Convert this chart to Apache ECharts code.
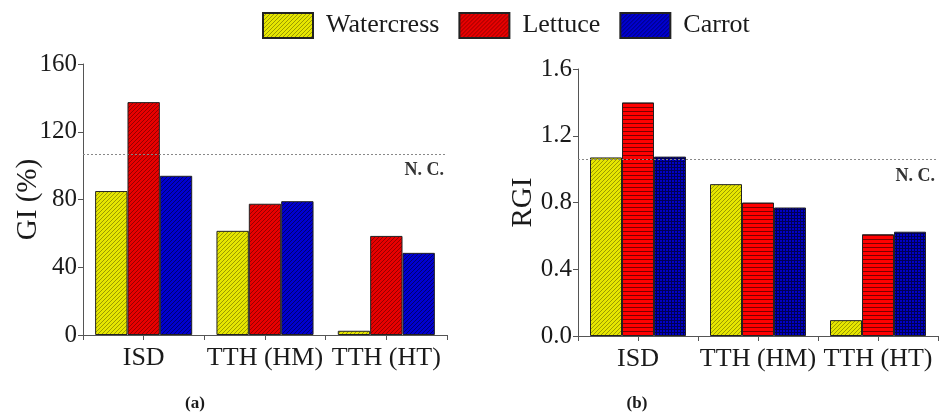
<!DOCTYPE html>
<html>
<head>
<meta charset="utf-8">
<script src="https://cdn.jsdelivr.net/npm/echarts@6/dist/echarts.min.js"></script>
<style>
html,body{margin:0;padding:0;background:#fff;}
#chart{width:952px;height:412px;}
</style>
</head>
<body>
<div id="chart"></div>
<script>
// ---- data ----
const categories = ['ISD', 'TTH (HM)', 'TTH (HT)'];
const seriesNames = ['Watercress', 'Lettuce', 'Carrot'];
const giWatercress = [85, 61.5, 2.5];
const giLettuce = [137.5, 77.5, 58.5];
const giCarrot = [94, 79, 48.5];
const rgiWatercress = [1.07, 0.91, 0.095];
const rgiLettuce = [1.40, 0.80, 0.61];
const rgiCarrot = [1.075, 0.77, 0.625];
const ncGI = 107;
const ncRGI = 1.065;
const giTicks = [0, 40, 80, 120, 160];
const rgiTicks = [0, 0.4, 0.8, 1.2, 1.6];

// ---- patterns ----
function diagPattern(bg, line) {
  const c = document.createElement('canvas');
  c.width = 4; c.height = 4;
  const g = c.getContext('2d');
  g.fillStyle = bg; g.fillRect(0, 0, 4, 4);
  g.strokeStyle = line; g.lineWidth = 1;
  g.beginPath();
  g.moveTo(-1, 5); g.lineTo(5, -1);
  g.moveTo(-1, 1); g.lineTo(1, -1);
  g.moveTo(3, 5); g.lineTo(5, 3);
  g.stroke();
  return { image: c, repeat: 'repeat' };
}
function horizPattern(bg, line) {
  const c = document.createElement('canvas');
  c.width = 4; c.height = 4;
  const g = c.getContext('2d');
  g.fillStyle = bg; g.fillRect(0, 0, 4, 4);
  g.fillStyle = line; g.fillRect(0, 3, 4, 1);
  return { image: c, repeat: 'repeat' };
}
function gridPattern(bg, line) {
  const c = document.createElement('canvas');
  c.width = 3; c.height = 3;
  const g = c.getContext('2d');
  g.fillStyle = bg; g.fillRect(0, 0, 3, 3);
  g.fillStyle = line; g.fillRect(0, 2, 3, 1); g.fillRect(2, 0, 1, 3);
  return { image: c, repeat: 'repeat' };
}

const yellowDiag = diagPattern('#e6e600', '#9a9a00');
const redDiag = diagPattern('#e80000', '#940000');
const blueDiag = diagPattern('#0000d0', '#000070');
const redHoriz = horizPattern('#ff0000', '#7a0000');
const blueGrid = gridPattern('#0000c8', '#000055');

const font = '"Liberation Serif", "Times New Roman", serif';
const textColor = '#1a1a1a';
const axisColor = '#555';

function mkBar(name, data, color, xi, yi, extra) {
  const s = {
    name: name, type: 'bar', data: data,
    xAxisIndex: xi, yAxisIndex: yi,
    barGap: '0%', barCategoryGap: '20%',
    itemStyle: { color: color, borderColor: '#222', borderWidth: 1 },
    emphasis: { disabled: true },
    animation: false
  };
  return Object.assign(s, extra || {});
}
function ncLine(val) {
  return {
    silent: true, symbol: 'none',
    lineStyle: { color: '#888', type: [2, 2], width: 1 },
    label: {
      show: true, position: 'insideEndBottom', formatter: 'N. C.',
      fontFamily: font, fontSize: 18, fontWeight: 'bold', color: '#333', distance: [3, 8]
    },
    data: [{ yAxis: val }]
  };
}

const xBase = {
  type: 'category', data: categories, position: 'bottom',
  axisLine: { lineStyle: { color: axisColor, width: 1 } },
  axisTick: { show: true, alignWithLabel: true, length: 5, lineStyle: { color: axisColor } },
  axisLabel: { fontFamily: font, fontSize: 26, color: textColor, margin: 10, interval: 0, hideOverlap: false }
};
const xBoundary = {
  type: 'category', data: categories, position: 'bottom',
  axisLine: { show: false },
  axisTick: { show: true, length: 5, lineStyle: { color: axisColor } },
  axisLabel: { show: false }
};

const yBase = {
  type: 'value', nameLocation: 'middle', nameGap: 40, nameMoveOverlap: false,
  nameTextStyle: { fontFamily: font, fontSize: 29, color: textColor },
  axisLine: { show: true, lineStyle: { color: axisColor, width: 1 } },
  axisTick: { show: true, length: 5, lineStyle: { color: axisColor } },
  axisLabel: { fontFamily: font, fontSize: 25, color: textColor, margin: 6 },
  splitLine: { show: false }
};

const option = {
  animation: false,
  backgroundColor: '#fff',
  title: [
    { text: '(a)', left: 190, top: 390, textAlign: 'center',
      textStyle: { fontFamily: font, fontSize: 17, fontWeight: 'bold', color: textColor } },
    { text: '(b)', left: 632, top: 390, textAlign: 'center',
      textStyle: { fontFamily: font, fontSize: 17, fontWeight: 'bold', color: textColor } }
  ],
  legend: {
    data: seriesNames, left: 262, top: 12, padding: 0,
    icon: 'rect',
    itemWidth: 50, itemHeight: 25, itemGap: 19,
    textStyle: { fontFamily: font, fontSize: 26, color: textColor, padding: [0, 0, 0, 8] },
    selectedMode: false
  },
  grid: [
    { left: 83, right: 505, top: 64, bottom: 77 },
    { left: 578, right: 14, top: 69, bottom: 76 }
  ],
  xAxis: [
    Object.assign({ gridIndex: 0 }, xBase),
    Object.assign({ gridIndex: 0 }, xBoundary),
    Object.assign({ gridIndex: 1 }, xBase),
    Object.assign({ gridIndex: 1 }, xBoundary)
  ],
  yAxis: [
    Object.assign({}, yBase, { gridIndex: 0, name: 'GI (%)', min: giTicks[0], max: giTicks[giTicks.length - 1], interval: giTicks[1] - giTicks[0] }),
    Object.assign({}, yBase, { gridIndex: 1, name: 'RGI', min: rgiTicks[0], max: rgiTicks[rgiTicks.length - 1], interval: rgiTicks[1] - rgiTicks[0],
      axisLabel: Object.assign({}, yBase.axisLabel, { formatter: v => v.toFixed(1) }) })
  ],
  series: [
    mkBar('Watercress', giWatercress, yellowDiag, 0, 0, { markLine: ncLine(ncGI) }),
    mkBar('Lettuce', giLettuce, redDiag, 0, 0),
    mkBar('Carrot', giCarrot, blueDiag, 0, 0),
    mkBar('Watercress', rgiWatercress, yellowDiag, 2, 1, { markLine: ncLine(ncRGI) }),
    mkBar('Lettuce', rgiLettuce, redHoriz, 2, 1),
    mkBar('Carrot', rgiCarrot, blueGrid, 2, 1)
  ]
};

const chart = echarts.init(document.getElementById('chart'), null, { renderer: 'canvas' });
chart.setOption(option);
</script>
</body>
</html>
